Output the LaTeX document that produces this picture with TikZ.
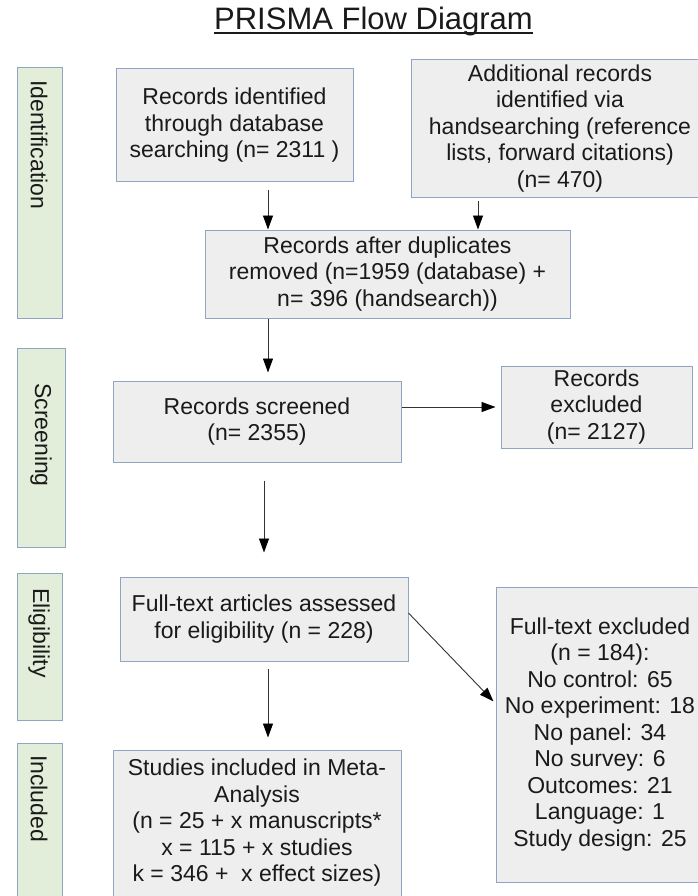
\documentclass[tikz,border=0pt]{standalone}
\usepackage{fontspec}
\setmainfont{Liberation Sans}
\usetikzlibrary{arrows.meta}
\definecolor{boxfill}{HTML}{EEEEEE}
\definecolor{boxline}{HTML}{8FA5C4}
\definecolor{sidefill}{HTML}{E2EED9}
\definecolor{sideline}{HTML}{8FA5C4}
\definecolor{txt}{HTML}{1A1A1A}
\definecolor{arrline}{HTML}{333333}
\begin{document}
\begin{tikzpicture}[x=1pt,y=-1pt,
  mainbox/.style={draw=boxline, fill=boxfill, line width=1pt, rectangle, align=center, inner sep=0pt, font=\fontsize{23}{26.5}\selectfont, text=txt},
  sidebox/.style={draw=sideline, fill=sidefill, line width=1pt, rectangle, inner sep=0pt},
  sidelabel/.style={rotate=-90, anchor=west, inner sep=0pt, font=\fontsize{23}{26}\selectfont, text=txt},
  arr/.style={draw=arrline, line width=0.9pt, -{Triangle[length=14pt,width=10pt,color=black]}}
]
\fill[white] (0,0) rectangle (697,896);
\useasboundingbox (0,0) rectangle (697,896);

% title
\node[font=\fontsize{31}{36}\selectfont, anchor=base, inner sep=0pt, text=txt] (title) at (373.5,30) {PRISMA Flow Diagram};
\draw[line width=1.3pt, txt] ([yshift=-3pt]title.base west) -- ([yshift=-3pt]title.base east);

% side boxes
\node[sidebox, minimum width=45, minimum height=250] (sI) at (39.5,193) {};
\node[sidebox, minimum width=48, minimum height=199] (sS) at (41,447.5) {};
\node[sidebox, minimum width=45, minimum height=147] (sE) at (39.5,646.5) {};
\node[sidebox, minimum width=45, minimum height=160] (sN) at (39.5,823) {};
\node[sidelabel] (lI) at (39,80) {Identification};
\node[sidelabel] (lS) at (41,383) {Screening};
\node[sidelabel] (lE) at (39,588) {Eligibility};
\node[sidelabel] (lN) at (39,755) {Included};

% main boxes
\node[mainbox, minimum width=237, minimum height=113] (b1) at (234.5,125.5) {Records identified\\through database\\searching (n= 2311 )};
\node[mainbox, minimum width=298, minimum height=137] (b2) at (560,128.5) {Additional records\\identified via\\handsearching (reference\\lists, forward citations)\\(n= 470)};
\node[mainbox, minimum width=365, minimum height=88] (b3) at (387.5,274) {Records after duplicates\\removed (n=1959 (database) +\\n= 396 (handsearch))};
\node[mainbox, minimum width=288, minimum height=81] (b4) at (257,421.5) {Records screened\\(n= 2355)};
\node[mainbox, minimum width=191, minimum height=82] (b5) at (596.5,407) {Records\\excluded\\(n= 2127)};
\node[mainbox, minimum width=288, minimum height=84] (b6) at (264,619) {Full-text articles assessed\\for eligibility (n = 228)};
\node[mainbox, minimum width=208, minimum height=295] (b7) at (600,734.5) {Full-text excluded\\(n = 184):\\No control: 65\\No experiment: 18\\No panel: 34\\No survey: 6\\Outcomes: 21\\Language: 1\\Study design: 25};
\node[mainbox, minimum width=288, minimum height=146] (b8) at (257,823) {Studies included in Meta-\\Analysis\\(n = 25 + x manuscripts*\\x = 115 + x studies\\k = 346 + \ x effect sizes)};

% arrow columns
\coordinate (p1) at (268,0);
\coordinate (p2) at (478,0);
\coordinate (p5) at (264,0);

% connectors
\draw[arr, shorten <=8pt] (b1.south -| p1) -- (b3.north -| p1);
\draw[arr, shorten <=3pt] (b2.south -| p2) -- (b3.north -| p2);
\draw[arr, shorten >=8pt] (b3.south -| p1) -- (b4.north -| p1);
\draw[arr, shorten >=5pt] (b4.east |- b5.west) -- (b5.west);
\draw[arr, shorten <=18pt, shorten >=24pt] (b4.south -| p5) -- (b6.north -| p5);
\draw[arr, shorten >=3pt] ([yshift=6pt]b6.east) -- ([yshift=31pt]b7.west);
\draw[arr, shorten <=7pt, shorten >=12pt] (b6.south -| p1) -- (b8.north -| p1);
\end{tikzpicture}
\end{document}
